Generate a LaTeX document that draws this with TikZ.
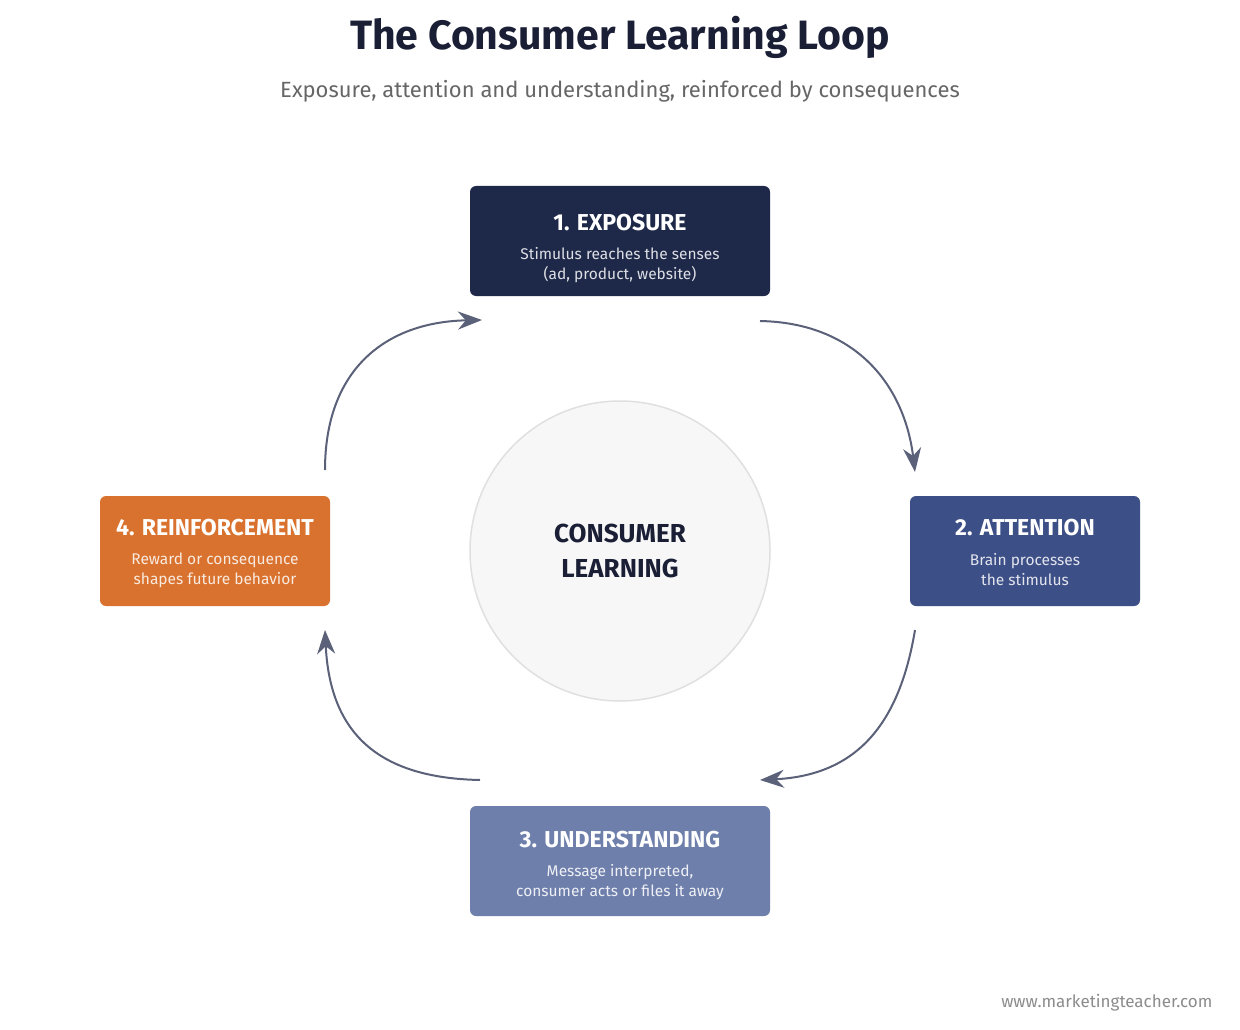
\documentclass[tikz,border=0pt]{standalone}
\usepackage{fontspec}
\setmainfont{Fira Sans}
\usetikzlibrary{arrows.meta}
\definecolor{themeNavy}{HTML}{1E2849}
\definecolor{themeBlue}{HTML}{3D4F87}
\definecolor{themeSlate}{HTML}{6E7FAB}
\definecolor{themeOrange}{HTML}{D9722E}
\definecolor{themeGrey}{HTML}{5A6178}
\definecolor{themeText}{HTML}{1A1F36}

\begin{document}
\begin{tikzpicture} [
        x=1pt, y=-1pt,
        box/.style={rounded corners=6pt, minimum width=300pt, minimum height=110pt, inner sep=0},
        head/.style={font=\fontsize{23}{26}\selectfont\bfseries, white},
        body/.style={font=\fontsize{15.5}{20}\selectfont, align=center},
        loop/.style={-{Stealth[length=24pt, width=18pt]}, draw=themeGrey, line width=2pt}
    ]
        \useasboundingbox[fill=white] (0,0) rectangle (1240,1030);

        \node[font=\fontsize{41}{46}\selectfont\bfseries, text=themeText] (title) at (620,37) {The Consumer Learning Loop};
        \node[font=\fontsize{22}{26}\selectfont, text=black!60] (subtitle) at (620,91) {Exposure, attention and understanding, reinforced by consequences};

        \node[circle, minimum size=300pt, fill=black!3, draw=black!12, line width=1.5pt, align=center,
              font=\fontsize{26}{35}\selectfont\bfseries, text=themeText] (core) at (620,551) {CONSUMER\\LEARNING};

        % the four steps
        \node[box, fill=themeNavy] (exposure) at (620,241) {};
        \node[head] at (620,223) {1. EXPOSURE};
        \node[body, text=white!85!themeNavy] at (620,265) {Stimulus reaches the senses\\(ad, product, website)};

        \node[box, fill=themeBlue, minimum width=230pt] (attention) at (1025,551) {};
        \node[head] at (1025,528) {2. ATTENTION};
        \node[body, text=white!85!themeBlue] at (1025,570) {Brain processes\\the stimulus};

        \node[box, fill=themeSlate] (understanding) at (620,861) {};
        \node[head] at (620,840) {3. UNDERSTANDING};
        \node[body, text=white!88!themeSlate] at (620,882) {Message interpreted,\\consumer acts or files it away};

        \node[box, fill=themeOrange, minimum width=230pt] (reinforcement) at (215,551) {};
        \node[head] at (215,528) {4. REINFORCEMENT};
        \node[body, text=white!85!themeOrange] at (215,570) {Reward or consequence\\shapes future behavior};

        \node[font=\fontsize{17}{20}\selectfont, text=black!45, anchor=east] (site) at (1216,1003) {www.marketingteacher.com};

        % loop arrows
        \coordinate (a1) at (760,321); \coordinate (b1) at (915,472);
        \coordinate (a2) at (915,630); \coordinate (b2) at (760,780);
        \coordinate (a3) at (480,780); \coordinate (b3) at (325,630);
        \coordinate (a4) at (325,470); \coordinate (b4) at (482,320);
        \draw[loop] (a1) .. controls (860,323) and (905,390) .. (b1);
        \draw[loop] (a2) .. controls (900,720) and (860,775) .. (b2);
        \draw[loop] (a3) .. controls (380,778) and (330,735) .. (b3);
        \draw[loop] (a4) .. controls (325,370) and (385,322) .. (b4);
\end{tikzpicture}
\end{document}
